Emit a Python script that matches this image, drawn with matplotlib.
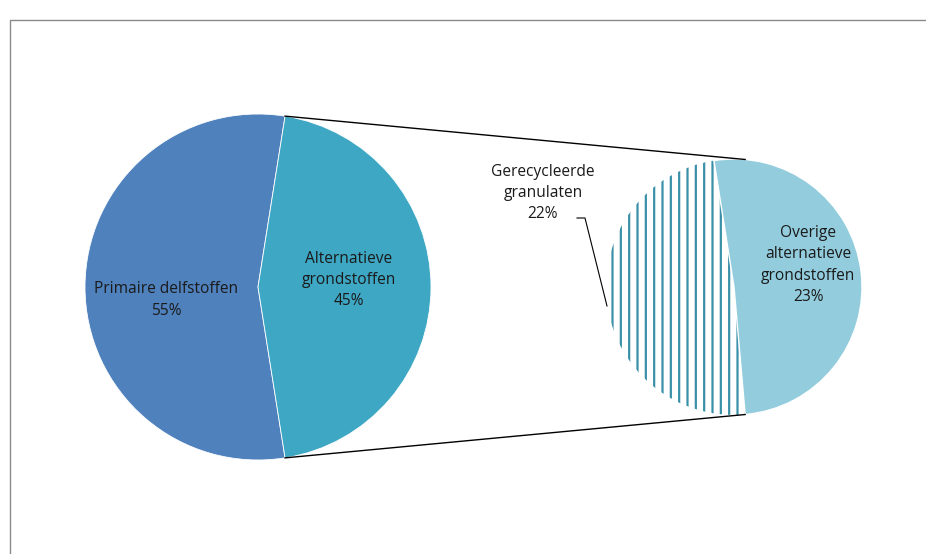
import numpy as np
import matplotlib
matplotlib.use("Agg")
import matplotlib.pyplot as plt
from matplotlib.patches import Rectangle

plt.rcParams["font.family"] = ["Open Sans", "DejaVu Sans"]
plt.rcParams["hatch.linewidth"] = 1.6

# data
MAIN_LABELS = ["Primaire delfstoffen", "Alternatieve\ngrondstoffen"]
MAIN_VALUES = [55, 45]
SUB_LABELS = ["Gerecycleerde\ngranulaten", "Overige\nalternatieve\ngrondstoffen"]
SUB_VALUES = [22, 23]

MAIN_COLORS = ["#4F81BD", "#3DA7C4"]
SUB_COLOR = "#93CDDD"
HATCH_COLOR = "#3A90A8"
FS = 11.2
LS = 1.42

W, H = 926, 554
fig = plt.figure(figsize=(W / 100, H / 100), dpi=100)
ax = fig.add_axes([0, 0, 1, 1])

# frame (only top/left visible)
ax.add_patch(Rectangle((10, -20), W, H, fill=False,
                       edgecolor="#8a8a8a", lw=1.0))

# ── main pie ──
c1, r1 = (258, 267), 173
main_span = MAIN_VALUES[1] / sum(MAIN_VALUES) * 360
start1 = main_span / 2
w1, _ = ax.pie(MAIN_VALUES, colors=MAIN_COLORS, startangle=start1,
               center=c1, radius=r1, frame=True,
               wedgeprops=dict(edgecolor="white", linewidth=0.6))
ax.text(166, H - 300, f"{MAIN_LABELS[0]}\n{MAIN_VALUES[0]}%", ha="center",
        va="center", fontsize=FS, linespacing=LS, color="#1a1a1a")
ax.text(349, H - 280, f"{MAIN_LABELS[1]}\n{MAIN_VALUES[1]}%", ha="center",
        va="center", fontsize=FS, linespacing=LS, color="#1a1a1a")

# ── secondary pie ──
c2, r2 = (734, 267), 128
start2 = 99
w2, _ = ax.pie(SUB_VALUES, colors=["white", SUB_COLOR], startangle=start2,
               center=c2, radius=r2, frame=True,
               wedgeprops=dict(edgecolor="white", linewidth=1.0))
w2[0].set_hatch("||")
w2[0].set_edgecolor(HATCH_COLOR)
w2[0].set_linewidth(0)

ax.set_xlim(0, W)
ax.set_ylim(0, H)
ax.set_aspect("equal")
ax.axis("off")

# connector lines
a = np.deg2rad(start1)
p_top = (c1[0] + r1 * np.cos(a), c1[1] + r1 * np.sin(a))
p_bot = (c1[0] + r1 * np.cos(a), c1[1] - r1 * np.sin(a))
b = np.deg2rad(85)
q_top = (c2[0] + r2 * np.cos(b), c2[1] + r2 * np.sin(b))
q_bot = (c2[0] + r2 * np.cos(b), c2[1] - r2 * np.sin(b))
ax.plot([p_top[0], q_top[0]], [p_top[1], q_top[1]], color="black", lw=1)
ax.plot([p_bot[0], q_bot[0]], [p_bot[1], q_bot[1]], color="black", lw=1)

# labels secondary pie
ax.text(543, H - 193, f"{SUB_LABELS[0]}\n{SUB_VALUES[0]}%", ha="center",
        va="center", fontsize=FS, linespacing=LS, color="#1a1a1a")
ax.plot([577, 585, 607], [H - 218, H - 218, H - 306], color="black", lw=0.8)
ax.text(808, H - 265, f"{SUB_LABELS[1]}\n{SUB_VALUES[1]}%", ha="center",
        va="center", fontsize=FS, linespacing=LS, color="#1a1a1a")

fig.savefig("out.png", dpi=100)
